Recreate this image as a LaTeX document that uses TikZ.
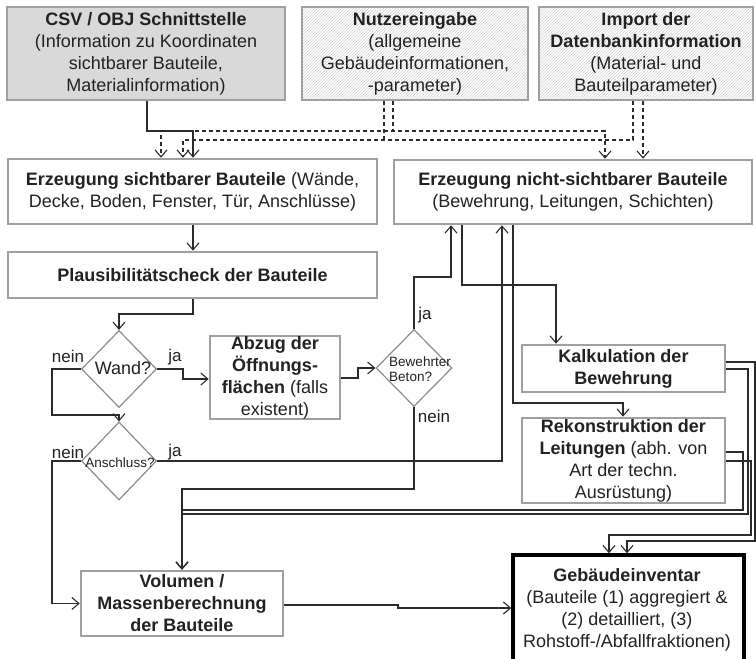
\documentclass[tikz,border=0pt]{standalone}
\usepackage{fontspec}
\setmainfont{Liberation Sans}
\usetikzlibrary{arrows.meta,patterns,shapes.geometric}
\definecolor{boxgray}{HTML}{A0A0A0}
\definecolor{fillgray}{HTML}{D9D9D9}
\definecolor{linecol}{HTML}{2B2B2B}
\definecolor{txt}{HTML}{222222}
\definecolor{hatch}{HTML}{D2D2D2}
\definecolor{diagray}{HTML}{8C8C8C}
\begin{document}
\begin{tikzpicture}[x=1pt,y=-1pt,
  box/.style={rectangle, draw=boxgray, line width=2.6pt, fill=white, inner sep=0pt,
    align=center, text=txt, font=\fontsize{18}{22}\selectfont},
  gbox/.style={box, fill=fillgray},
  hbox/.style={box, pattern=north east lines, pattern color=hatch},
  dia/.style={diamond, draw=diagray, line width=1.2pt, inner sep=0pt, fill=white,
    minimum width=75pt, minimum height=77pt},
  txtnode/.style={inner sep=0pt, align=center, text=txt, font=\fontsize{18}{22}\selectfont},
  small/.style={inner sep=0pt, text=txt, font=\fontsize{13.5}{15}\selectfont},
  lbl/.style={inner sep=0pt, text=txt, font=\fontsize{17}{20}\selectfont},
  con/.style={draw=linecol, line width=1.1pt},
  arr/.style={con, -{Straight Barb[length=7pt,width=12pt]}},
  dsh/.style={con, dash pattern=on 4pt off 3pt},
  darr/.style={arr, dash pattern=on 4pt off 3pt}
]
\clip (0,0) rectangle (756,659);
\fill[white] (0,0) rectangle (756,659);

% top row
\node[gbox, minimum width=278pt, minimum height=93pt] (csv) at (146,53.5)
  {\textbf{CSV / OBJ Schnittstelle}\\(Information zu Koordinaten\\sichtbarer Bauteile,\\Materialinformation)};
\node[hbox, minimum width=226pt, minimum height=93pt] (nutz) at (415,53.5)
  {\textbf{Nutzereingabe}\\(allgemeine\\Gebäudeinformationen,\\-parameter)};
\node[hbox, minimum width=214pt, minimum height=93pt] (imp) at (646,53.5)
  {\textbf{Import der}\\\textbf{Datenbankinformation}\\(Material- und\\Bauteilparameter)};

% second row
\node[box, minimum width=369pt, minimum height=65pt] (sicht) at (192.5,191.5)
  {\textbf{Erzeugung sichtbarer Bauteile} (Wände,\\Decke, Boden, Fenster, Tür, Anschlüsse)};
\node[box, minimum width=358pt, minimum height=64pt] (nicht) at (573,192)
  {\textbf{Erzeugung nicht-sichtbarer Bauteile}\\(Bewehrung, Leitungen, Schichten)};
\node[box, minimum width=369pt, minimum height=46pt] (plaus) at (192.5,275)
  {\textbf{Plausibilitätscheck der Bauteile}};

% decisions
\node[dia] (wand) at (119,369) {};
\node[txtnode] (wandt) at (123,368) {Wand?};
\node[box, minimum width=130pt, minimum height=83pt] (abzug) at (275,377.5)
  {\textbf{Abzug der}\\\textbf{Öffnungs-}\\\textbf{flächen} (falls\\existent)};
\node[dia, minimum width=76pt] (bew) at (414,368) {};
\node[small, align=left] (bewt) at (420,369.5) {Bewehrter\\Beton?};
\node[dia, minimum height=78pt] (ansch) at (119,461) {};
\node[small] (anscht) at (120,463) {Anschluss?};

% right column
\node[box, minimum width=203pt, minimum height=47pt] (kalk) at (623.5,368.5)
  {\textbf{Kalkulation der}\\\textbf{Bewehrung}};
\node[box, minimum width=203pt, minimum height=85pt] (rekon) at (623.5,460.5)
  {\textbf{Rekonstruktion der}\\\textbf{Leitungen} (abh. von\\Art der techn.\\Ausrüstung)};

% bottom
\node[box, minimum width=202pt, minimum height=65pt] (vol) at (182,603.5)
  {\textbf{Volumen /}\\\textbf{Massenberechnung}\\\textbf{der Bauteile}};
\node[box, draw=black, line width=3.5pt, minimum width=231pt, minimum height=125pt] (geb) at (628.5,617.5) {};
\node[txtnode] (gebt) at (627,609.5)
  {\textbf{Gebäudeinventar}\\(Bauteile (1) aggregiert \&\\(2) detailliert, (3)\\Rohstoff-/Abfallfraktionen)};

% labels
\node[lbl] (l1) at (68,356) {nein};
\node[lbl] (l2) at (175,357) {ja};
\node[lbl] (l3) at (68,452) {nein};
\node[lbl] (l4) at (175,452) {ja};
\node[lbl] (l5) at (425,315) {ja};
\node[lbl] (l6) at (434,416) {nein};

% top connectors
\draw[arr] ([xshift=1pt]csv.south) |- (170,131) -| ([xshift=0.5pt]sicht.north);
\draw[dsh] ([xshift=-31pt]nutz.south) -- (384,140);
\draw[darr] ([xshift=-13pt]imp.south) |- (300,140) -| ([xshift=-9.5pt]sicht.north);
\draw[darr] ([xshift=-22pt]nutz.south) |- (300,131) -| ([xshift=-31.5pt]sicht.north);
\draw[darr] ([xshift=-22pt]nutz.south) |- (500,131) -| ([xshift=32pt]nicht.north);
\draw[darr] ([xshift=-3pt]imp.south) -- ([xshift=70pt]nicht.north);

% left flow
\draw[arr] ([xshift=0.5pt]sicht.south) -- ([xshift=0.5pt]plaus.north);
\draw[arr] ([xshift=0.5pt]plaus.south) |- (150,314) -| (wand.north);
\draw[arr] (wand.west) -| (52,415) -| (ansch.north);
\draw[arr] (wand.east) -| (183,379) -- ([yshift=-1.5pt]abzug.west);
\draw[arr] ([yshift=-0.5pt]abzug.east) -- (358,378) |- (bew.west);
\draw[arr] (bew.north) |- (430,277) -| ([xshift=-122pt]nicht.south);
\draw[arr] (bew.south) |- (300,489) -| (vol.north);
\draw[arr] (ansch.west) -| (52,603.5) -- (vol.west);
\draw[arr] (ansch.east) -| ([xshift=-71pt]nicht.south);

% from nicht-sichtbar
\draw[arr] ([xshift=-111pt]nicht.south) |- (500,285) -| ([xshift=-67.5pt]kalk.north);
\draw[arr] ([xshift=-60pt]nicht.south) |- (560,403) -| ([xshift=-0.5pt]rekon.north);

% right side returns
\draw[arr] ([yshift=6.5pt]kalk.east) -| (755,541) -| ([xshift=-1.5pt]geb.north);
\draw[arr] ([yshift=-0.5pt]kalk.east) -| (748,514) -| (vol.north);
\draw[arr] ([yshift=8.5pt]rekon.east) -| (743,510) -| (vol.north);
\draw[arr] ([yshift=-0.5pt]rekon.east) -| (751,535) -| ([xshift=-19.5pt]geb.north);

% volumen to inventory
\draw[arr] ([yshift=-1.5pt]vol.east) -- (398,605) |- ([yshift=9.5pt]geb.west);
\end{tikzpicture}
\end{document}
